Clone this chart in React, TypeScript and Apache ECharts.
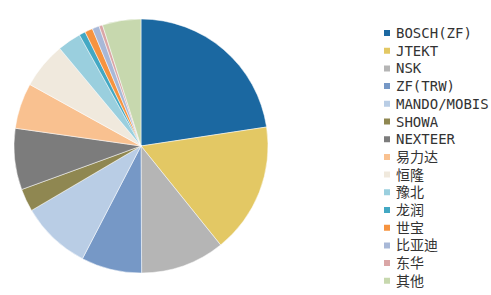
import React, { useEffect, useRef } from "react";
import * as echarts from "echarts";

const categories = [
  "BOSCH(ZF)", "JTEKT", "NSK", "ZF(TRW)", "MANDO/MOBIS", "SHOWA", "NEXTEER",
  "易力达", "恒隆", "豫北", "龙润", "世宝", "比亚迪", "东华", "其他",
];
const values = [22.6, 16.6, 10.7, 7.7, 8.9, 2.9, 7.8, 5.8, 5.9, 3.0, 0.8, 1.0, 0.9, 0.45, 4.9];
const colors = [
  "#1b68a1", "#e3c864", "#b5b5b5", "#7698c6", "#b9cde5", "#8f8751", "#7c7c7c",
  "#f9c190", "#f0e9dd", "#9acfde", "#43a8c3", "#f6933f", "#a8b8d7", "#daa6a6", "#c7d8ae",
];

export default function App() {
  const ref = useRef<HTMLDivElement>(null);
  useEffect(() => {
    const chart = echarts.init(ref.current!, undefined, { renderer: "svg" });
    chart.setOption({
      animation: false,
      color: colors,
      legend: {
        orient: "vertical",
        left: 382,
        top: 26,
        padding: 0,
        itemWidth: 8,
        itemHeight: 8,
        itemGap: 3.7,
        icon: "rect",
        textStyle: {
          fontFamily: "DejaVu Sans Mono, Noto Sans CJK SC, monospace",
          fontSize: 14,
          lineHeight: 14,
          color: "#333",
        },
        data: categories,
      },
      series: [
        {
          type: "pie",
          center: [141, 146],
          radius: 127,
          startAngle: 90,
          clockwise: true,
          label: { show: false },
          labelLine: { show: false },
          itemStyle: { borderColor: "#fff", borderWidth: 0.5 },
          data: categories.map((name, i) => ({ name, value: values[i] })),
        },
      ],
    });
    return () => chart.dispose();
  }, []);
  return (
    <div
      ref={ref}
      style={{ position: "fixed", left: 0, top: 0, width: 491, height: 295, background: "#fff" }}
    />
  );
}
